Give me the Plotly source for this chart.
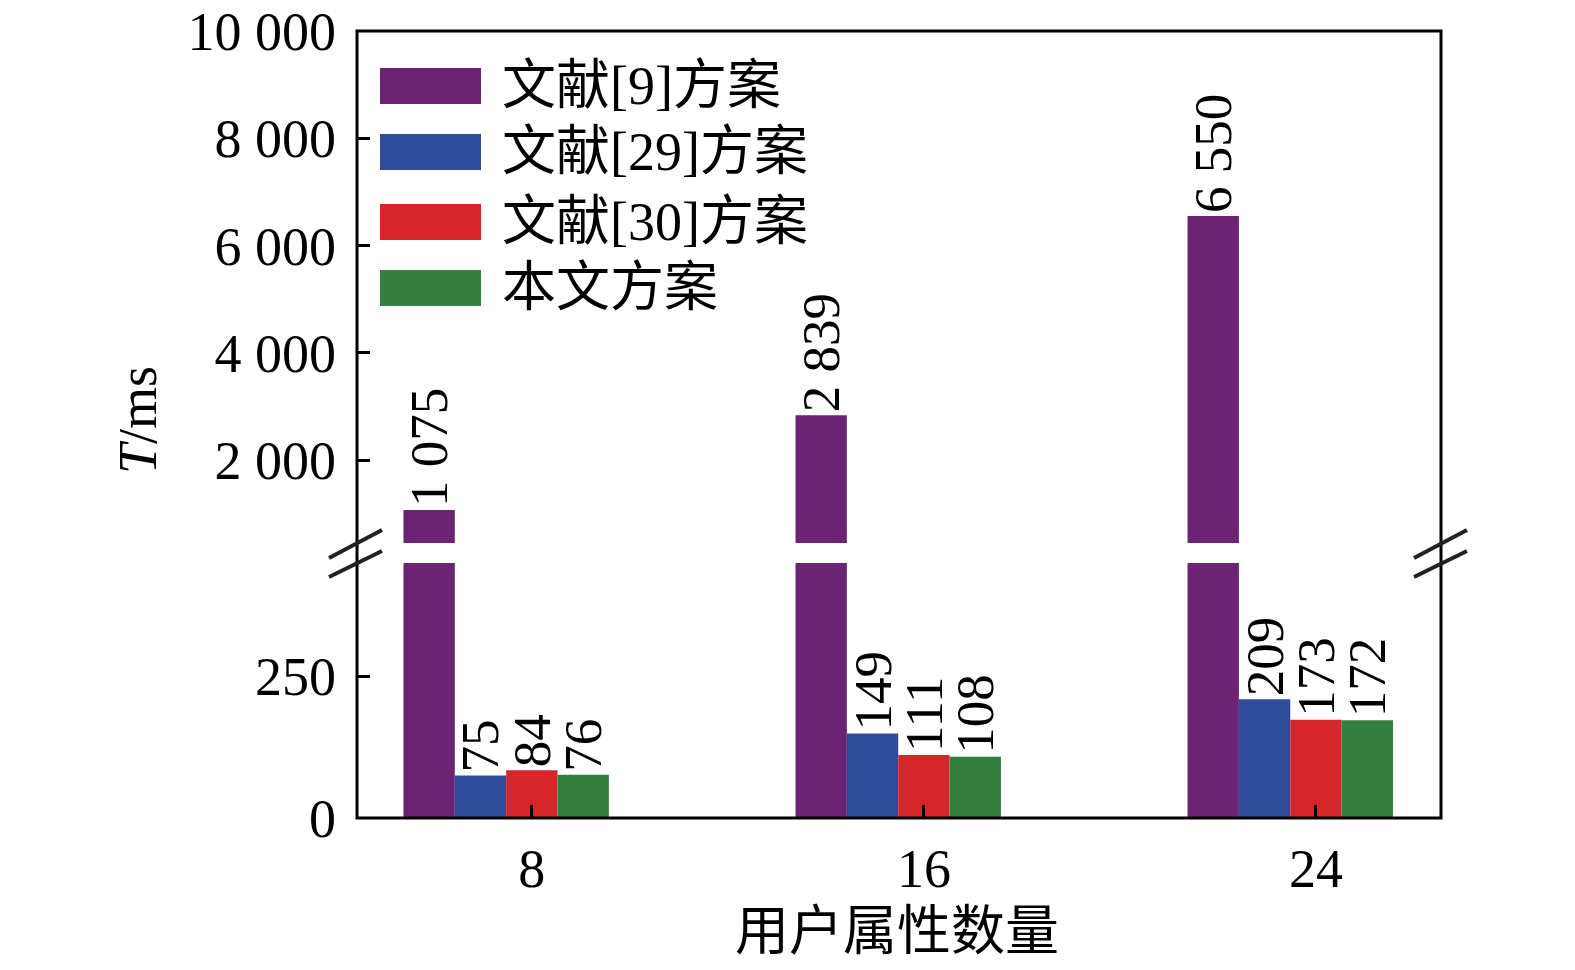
import plotly.graph_objects as go

# data
groups = ["8", "16", "24"]
series_names = ["文献[9]方案", "文献[29]方案", "文献[30]方案", "本文方案"]
ref9 = [1075, 2839, 6550]
ref29 = [75, 149, 209]
ref30 = [84, 111, 173]
ours = [76, 108, 172]
ref9_labels = ["1 075", "2 839", "6 550"]

upper_ticks = [2000, 4000, 6000, 8000, 10000]
upper_ticktext = ["2 000", "4 000", "6 000", "8 000", "10 000"]
lower_ticks = [0, 250]
lower_ticktext = ["0", "250"]

colors = ["#6A2473", "#2F4C9B", "#D7262A", "#347F3F"]
series = [ref9, ref29, ref30, ours]

W, H = 1575, 970
OFF = 8                           # page body margin
L, R, T, B = 357, 1441, 31, 818   # plot area in screen pixels


def px(x):
    return (x - L) / (R - L)


def py(y):
    return (B - y) / (B - T)


SERIF = "Liberation Serif, Noto Sans CJK SC"
bar_w = 0.131
xpos = list(range(len(groups)))

fig = go.Figure()

# lower panel: all four series, labels for the small ones
for i, (vals, col) in enumerate(zip(series, colors)):
    fig.add_trace(go.Bar(
        x=xpos, y=vals, yaxis="y", xaxis="x",
        width=bar_w, offset=(i - 2.5) * bar_w,
        marker=dict(color=col, line=dict(width=0)),
        text=None if i == 0 else [str(v) for v in vals],
        textposition="outside", textangle=-90, constraintext="none",
        textfont=dict(family=SERIF, size=53, color="black"),
        showlegend=False, cliponaxis=True,
    ))

# upper panel: only the tall series
fig.add_trace(go.Bar(
    x=xpos, y=ref9, yaxis="y2", xaxis="x",
    width=bar_w, offset=-2.5 * bar_w,
    marker=dict(color=colors[0], line=dict(width=0)),
    text=ref9_labels, textposition="outside", textangle=-90,
    constraintext="none",
    textfont=dict(family=SERIF, size=53, color="black"),
    showlegend=False,
))

axis_common = dict(
    showgrid=False, zeroline=False, showline=False, automargin=False,
    ticks="inside", ticklen=13, tickwidth=3, tickcolor="black",
    ticklabeloverflow="allow",
    tickfont=dict(family=SERIF, size=54, color="black"),
)

fig.update_layout(
    width=W, height=H,
    margin=dict(l=L - OFF, r=W - (R - OFF), t=T - OFF, b=H - (B - OFF),
                autoexpand=False),
    paper_bgcolor="white", plot_bgcolor="white",
    barmode="overlay",
    xaxis=dict(range=[-0.446, 2.319], tickvals=xpos, ticktext=groups,
               anchor="y", ticklabelstandoff=14, **axis_common),
    yaxis=dict(domain=[0, py(563)], range=[0, 449],
               tickvals=lower_ticks, ticktext=lower_ticktext,
               ticklabelstandoff=20, **axis_common),
    yaxis2=dict(domain=[py(543), 1], range=[458, 10000],
                tickvals=upper_ticks, ticktext=upper_ticktext,
                anchor="x", ticklabelstandoff=20, **axis_common),
)

shapes = [dict(type="rect", xref="paper", yref="paper", x0=0, x1=1, y0=0, y1=1,
               line=dict(color="black", width=3))]
# break marks on both sides
for xa, xb in [(329, 382), (1414, 1467)]:
    for ya, yb in [(558, 530), (577, 551)]:
        shapes.append(dict(type="line", xref="paper", yref="paper",
                           x0=px(xa), x1=px(xb), y0=py(ya), y1=py(yb),
                           line=dict(color="#222222", width=4)))

annotations = [
    dict(text="<i>T</i>/ms", xref="paper", yref="paper", x=px(138), y=py(420),
         textangle=-90, showarrow=False, xanchor="center", yanchor="middle",
         font=dict(family=SERIF, size=54, color="black")),
    dict(text="用户属性数量", xref="paper", yref="paper", x=px(897), y=py(932),
         showarrow=False, xanchor="center", yanchor="middle",
         font=dict(family=SERIF, size=54, color="black")),
]

# hand-drawn legend (wide colour swatches)
legend_y = [86, 152, 222, 288]
for name, col, yc in zip(series_names, colors, legend_y):
    shapes.append(dict(type="rect", xref="paper", yref="paper",
                       x0=px(380), x1=px(481), y0=py(yc + 18), y1=py(yc - 18),
                       fillcolor=col, line=dict(width=0)))
    annotations.append(dict(text=name, xref="paper", yref="paper",
                            x=px(500), y=py(yc), showarrow=False,
                            xanchor="left", yanchor="middle",
                            font=dict(family=SERIF, size=54, color="black")))

fig.update_layout(shapes=shapes, annotations=annotations)

fig.write_html("out.html")
